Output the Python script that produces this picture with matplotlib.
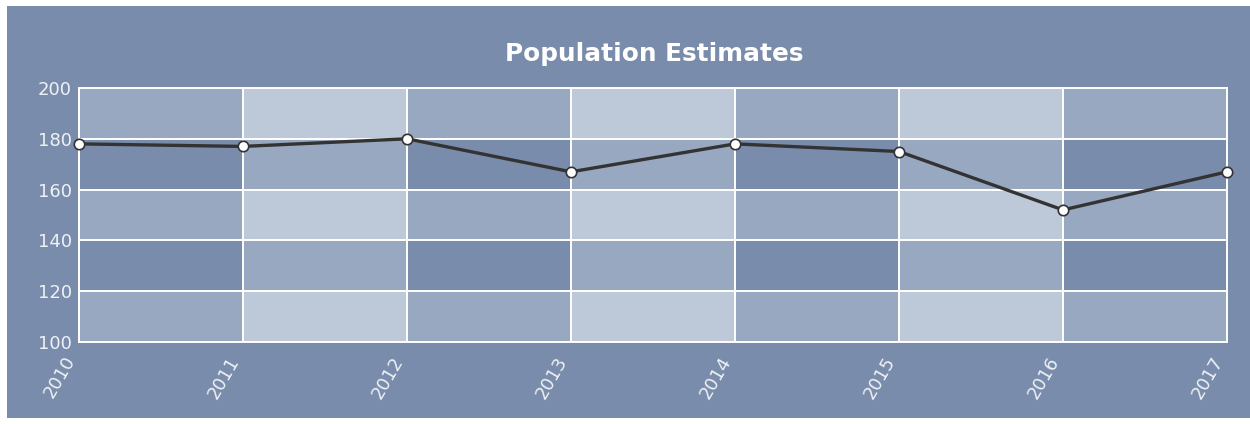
import matplotlib
matplotlib.use("Agg")
import matplotlib.pyplot as plt
from matplotlib.patches import Rectangle

years = [2010, 2011, 2012, 2013, 2014, 2015, 2016, 2017]
population = [178, 177, 180, 167, 178, 175, 152, 167]
y_ticks = [100, 120, 140, 160, 180, 200]

BG = "#7a8cab"
MID = "#98a8c1"
LIGHT = "#bdc8d9"
TXT = "#eef1f6"

fig = plt.figure(figsize=(12.5, 4.24), dpi=100, facecolor="white")
# blue panel, offset a little from the top/left edges like the original
fig.patches.append(Rectangle((7 / 1250, 1 - 418 / 424), 1 - 7 / 1250, 412 / 424,
                             transform=fig.transFigure, facecolor=BG, edgecolor="none", zorder=-5))

ax = fig.add_axes([79 / 1250, 1 - 342 / 424, (1227 - 79) / 1250, (342 - 88) / 424])
ax.set_facecolor(BG)

# checkerboard shading: odd columns and every other row get lighter
for i in range(len(years) - 1):
    for j in range(len(y_ticks) - 1):
        n = (i % 2 == 1) + (j % 2 == 0)
        if n == 0:
            continue
        ax.add_patch(Rectangle((years[i], y_ticks[j]), years[i + 1] - years[i],
                               y_ticks[j + 1] - y_ticks[j],
                               facecolor=LIGHT if n == 2 else MID, edgecolor="none", zorder=0))

ax.plot(years, population, color="#333333", lw=2.4, marker="o", ms=7.5,
        mfc="white", mec="#333333", mew=1.2, zorder=4, clip_on=False)

ax.set_xlim(years[0], years[-1])
ax.set_ylim(y_ticks[0], y_ticks[-1])
ax.set_xticks(years)
ax.set_xticklabels([str(y) for y in years], rotation=60, ha="right")
ax.set_yticks(y_ticks)
ax.tick_params(length=0, colors=TXT, labelsize=13, pad=5)
ax.tick_params(axis="x", pad=8)
ax.grid(True, color="white", lw=1.4, zorder=1)
ax.set_axisbelow(False)
for s in ax.spines.values():
    s.set_color("white")
    s.set_linewidth(1.4)
    s.set_zorder(2)

fig.text(654 / 1250, 1 - 54 / 424, "Population Estimates", ha="center", va="center",
         fontsize=17.8, fontweight="bold", color="white")

fig.savefig("out.png", dpi=100, facecolor=fig.get_facecolor())
